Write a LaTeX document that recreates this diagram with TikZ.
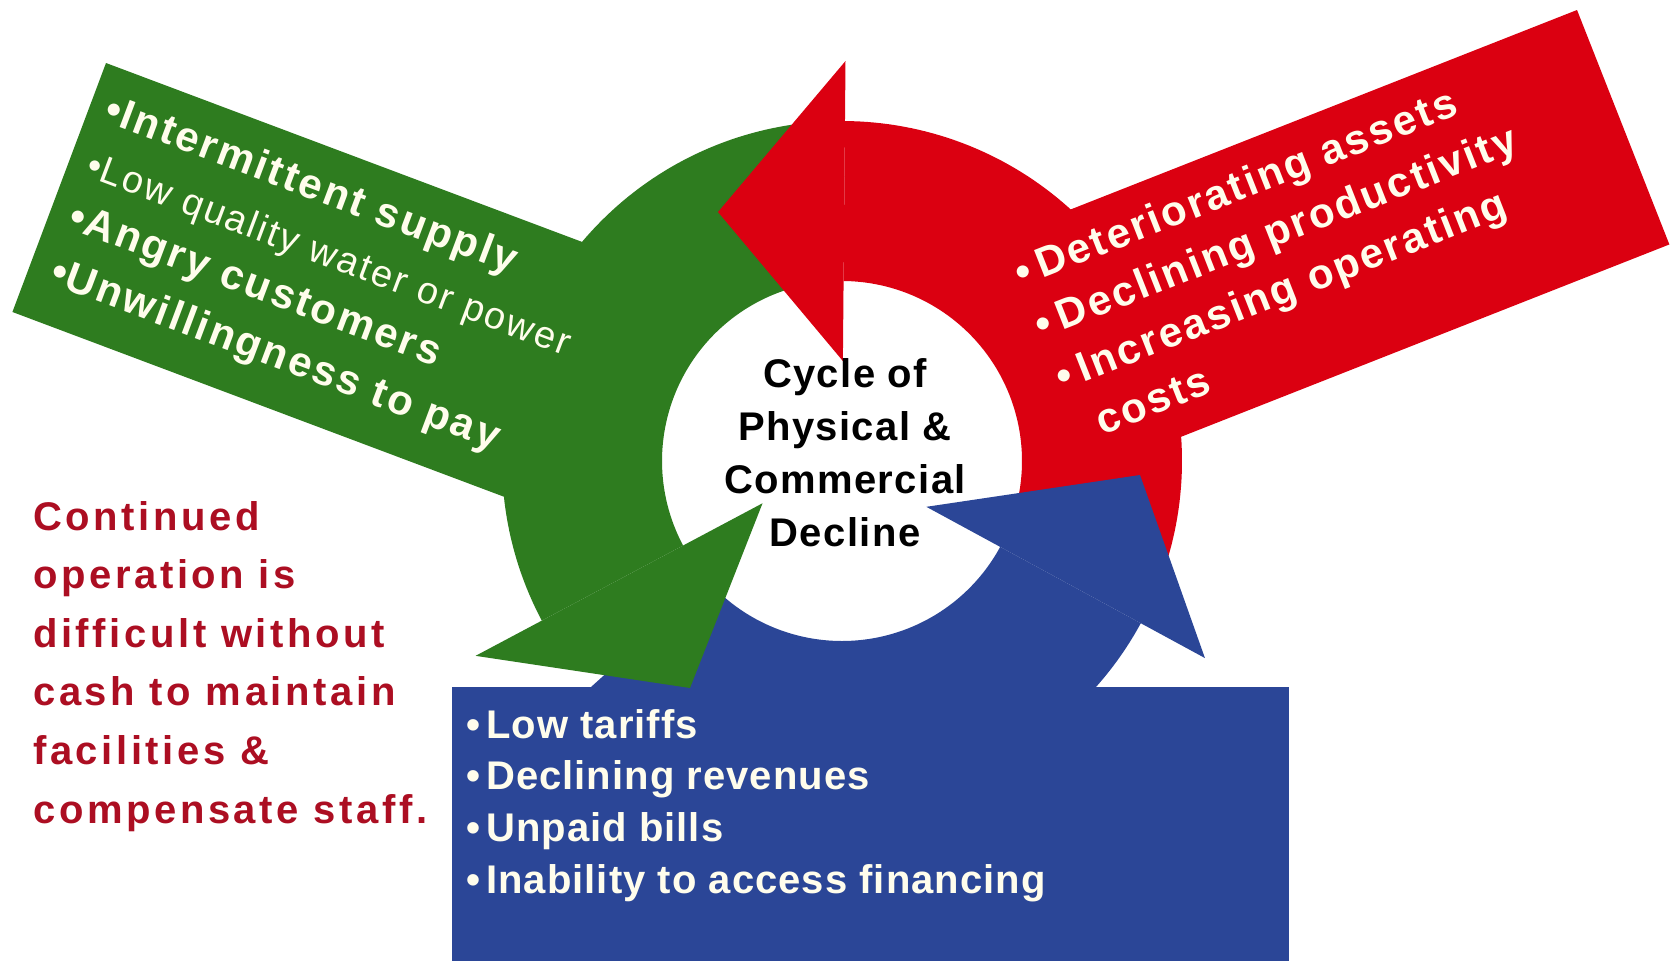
\documentclass[tikz,border=0pt]{standalone}
\usepackage{fontspec}
\setmainfont{Liberation Sans}
\newfontfamily\panelfont{Liberation Sans}[LetterSpace=6]
\newfontfamily\hubfont{Liberation Sans}[LetterSpace=3.5]
\newfontfamily\notefont{Liberation Sans}[LetterSpace=9]
\newfontfamily\listfont{Liberation Sans}[LetterSpace=2.6]
\usetikzlibrary{calc}

\definecolor{cycgreen}{RGB}{46,124,31}
\definecolor{cycred}{RGB}{219,0,17}
\definecolor{cycblue}{RGB}{43,70,151}
\definecolor{notered}{RGB}{172,14,34}
\definecolor{cream}{RGB}{255,253,236}

\begin{document}
\begin{tikzpicture}[x=1pt,y=-1pt,
  panelbold/.style={anchor=base west, inner sep=0pt, text=cream, font=\panelfont\bfseries\fontsize{42}{50}\selectfont},
  panelplain/.style={anchor=base west, inner sep=0pt, text=cream, font=\panelfont\fontsize{38}{46}\selectfont},
  hubtext/.style={anchor=base, inner sep=0pt, font=\hubfont\bfseries\fontsize{40}{48}\selectfont},
  listtext/.style={anchor=base west, inner sep=0pt, text=cream, font=\listfont\bfseries\fontsize{40}{48}\selectfont},
  notetext/.style={anchor=base west, inner sep=0pt, text=notered, font=\notefont\bfseries\fontsize{40}{48}\selectfont}]

\useasboundingbox (0,0) rectangle (1677,961);
\fill[white] (0,0) rectangle (1677,961);

% centre of the cycle
\coordinate (C) at (842,461);

% ---------- arrow bodies: ring segments and their panels ----------
% green: from under the red head down the left side
\fill[cycgreen] plot[domain=262:152, samples=90] ({842+340*cos(\x)},{461+340*sin(\x)})
  -- plot[domain=152:262, samples=90] ({842+180*cos(\x)},{461+180*sin(\x)}) -- cycle;
\begin{scope}[shift={(106,63)}, rotate=-20.6]
  \fill[cycgreen] (0,0) -- (600,0) -- (600,266) -- (0,266) -- cycle;
\end{scope}

% red: from under the blue head up the right side
\fill[cycred] plot[domain=22:-89.5, samples=90] ({842+340*cos(\x)},{461+340*sin(\x)})
  -- plot[domain=-89.5:22, samples=90] ({842+180*cos(\x)},{461+180*sin(\x)}) -- cycle;
\begin{scope}[shift={(1577,10)}, rotate=21.5]
  \fill[cycred] (0,0) -- (0,252) -- (-620,252) -- (-620,0) -- cycle;
\end{scope}

% blue: from under the green head along the bottom
\fill[cycblue] plot[domain=138:28.5, samples=90] ({842+340*cos(\x)},{461+340*sin(\x)})
  -- plot[domain=28.5:138, samples=90] ({842+180*cos(\x)},{461+180*sin(\x)}) -- cycle;
\fill[cycblue] (452,687) rectangle (1289,961);

% ---------- arrow heads ----------
\coordinate (gtip) at (690,688);
\coordinate (rtip) at (718,212);
\coordinate (btip) at (1140,475);
\fill[cycgreen] ($(C)+(152:90)$) -- ($(C)+(152:415)$) -- (gtip) -- cycle;
\fill[cycred] ($(C)+(270.5:100)$) -- ($(C)+(270.5:400)$) -- (rtip) -- cycle;
\fill[cycblue] ($(C)+(28.5:96)$) -- ($(C)+(28.5:413)$) -- (btip) -- cycle;

% ---------- texts ----------
\begin{scope}[shift={(106,63)}, rotate=-20.6, nodes={transform shape}]
  \node[panelbold]  (g1) at (17,55)  {•\hspace{1pt}Intermittent supply};
  \node[panelplain] (g2) at (19,113) {•\hspace{1pt}Low quality water or power};
  \node[panelbold]  (g3) at (21,168) {•\hspace{1pt}Angry customers};
  \node[panelbold]  (g4) at (23,226) {•\hspace{1pt}Unwillingness to pay};
\end{scope}

\begin{scope}[shift={(1577,10)}, rotate=21.5, nodes={transform shape}]
  \node[panelbold] (r1) at (-619,54)  {•\hspace{8pt}Deteriorating assets};
  \node[panelbold] (r2) at (-619,110) {•\hspace{8pt}Declining productivity};
  \node[panelbold] (r3) at (-619,166) {•\hspace{8pt}Increasing operating};
  \node[panelbold] (r4) at (-598,222) {costs};
\end{scope}

\node[hubtext] (h1) at (845,387) {Cycle of};
\node[hubtext] (h2) at (845,440) {Physical \&};
\node[hubtext] (h3) at (845,493) {Commercial};
\node[hubtext] (h4) at (845,546) {Decline};

\node[listtext] (b1) at (466,738) {•\hspace{6pt}Low tariffs};
\node[listtext] (b2) at (466,789) {•\hspace{6pt}Declining revenues};
\node[listtext] (b3) at (466,841) {•\hspace{6pt}Unpaid bills};
\node[listtext] (b4) at (466,893) {•\hspace{6pt}Inability to access financing};

\node[notetext] (n1) at (33,530)   {Continued};
\node[notetext] (n2) at (33,588.6) {operation is};
\node[notetext] (n3) at (33,647.2) {difficult without};
\node[notetext] (n4) at (33,705.8) {cash to maintain};
\node[notetext] (n5) at (33,764.4) {facilities \&};
\node[notetext] (n6) at (33,823)   {compensate staff.};
\end{tikzpicture}
\end{document}
